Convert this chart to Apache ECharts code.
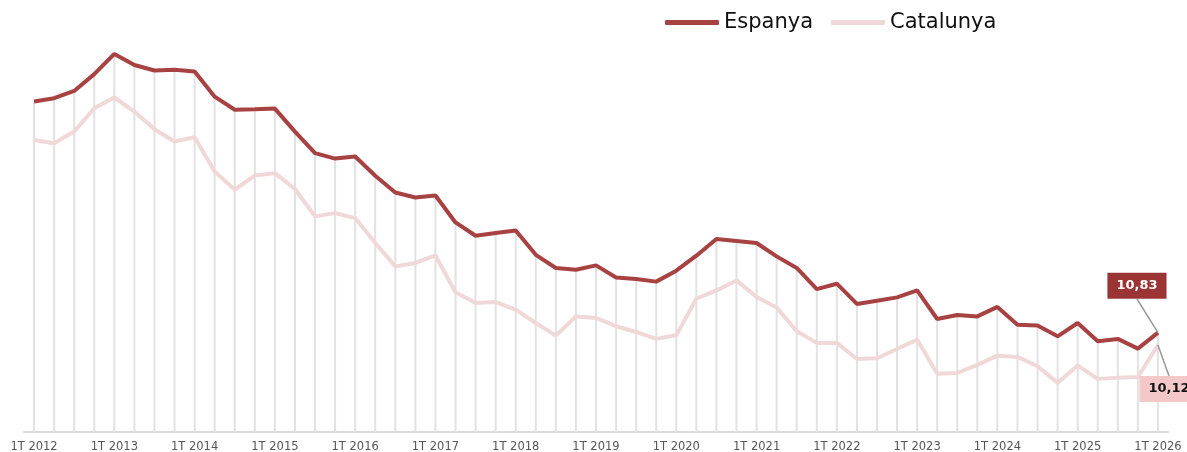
<!DOCTYPE html>
<html>
<head>
<meta charset="utf-8">
<script src="https://cdn.jsdelivr.net/npm/echarts@6/dist/echarts.min.js"></script>
<style>
  html, body { margin: 0; padding: 0; background: #fff; }
  #chart { width: 1187px; height: 452px; }
</style>
</head>
<body>
<div id="chart"></div>
<script>
// trimestres 1T 2012 .. 1T 2026
var years = [2012, 2013, 2014, 2015, 2016, 2017, 2018, 2019, 2020, 2021, 2022, 2023, 2024, 2025, 2026];
var quarters = [];
years.forEach(function (y) {
  for (var q = 1; q <= 4; q++) {
    if (y === 2026 && q > 1) break;
    quarters.push(q + 'T ' + y);
  }
});

var espanya = [
  24.19, 24.38, 24.80, 25.77, 26.94, 26.30, 25.98, 26.02,
  25.92, 24.47, 23.71, 23.74, 23.78, 22.45, 21.21, 20.89,
  21.01, 19.90, 18.93, 18.64, 18.76, 17.20, 16.43, 16.59,
  16.74, 15.33, 14.57, 14.47, 14.72, 14.02, 13.93, 13.78,
  14.41, 15.28, 16.24, 16.13, 16.01, 15.24, 14.57, 13.35,
  13.66, 12.49, 12.68, 12.87, 13.27, 11.62, 11.85, 11.77,
  12.32, 11.29, 11.24, 10.62, 11.39, 10.33, 10.47, 9.91,
  10.83
];
var catalunya = [
  21.97, 21.78, 22.45, 23.80, 24.42, 23.61, 22.59, 21.88,
  22.13, 20.14, 19.09, 19.91, 20.05, 19.13, 17.55, 17.74,
  17.45, 16.01, 14.66, 14.86, 15.29, 13.16, 12.55, 12.60,
  12.16, 11.39, 10.66, 11.77, 11.68, 11.20, 10.87, 10.47,
  10.68, 12.79, 13.27, 13.85, 12.89, 12.29, 10.91, 10.24,
  10.24, 9.31, 9.35, 9.89, 10.43, 8.46, 8.50, 8.97,
  9.50, 9.43, 8.89, 7.93, 8.93, 8.16, 8.22, 8.27,
  10.12
];

var font = 'DejaVu Sans, Verdana, sans-serif';
var last = quarters.length - 1;

function fmt(p) {
  return p.value.toFixed(2).replace('.', ',');
}

// només l'últim punt porta etiqueta
function lastLabel(arr, bg, fg) {
  return arr.map(function (v, i) {
    if (i < arr.length - 1) return v;
    return {
      value: v,
      label: {
        show: true,
        position: 'inside',
        formatter: fmt,
        backgroundColor: bg,
        color: fg,
        fontFamily: font,
        fontWeight: 'bold',
        fontSize: 13,
        lineHeight: 14,
        padding: [6, 9]
      }
    };
  });
}

// línia guia entre el punt i la seva etiqueta
function guide(val, px, py) {
  return {
    silent: true,
    symbol: 'none',
    label: { show: false },
    lineStyle: { color: '#999', width: 1.5, type: 'solid' },
    data: [[{ coord: [last, val] }, { x: px, y: py }]]
  };
}

var chart = echarts.init(document.getElementById('chart'));

chart.setOption({
  animation: false,
  legend: {
    data: ['Espanya', 'Catalunya'],
    left: 660,
    top: 7,
    icon: 'roundRect',
    itemWidth: 54,
    itemHeight: 5,
    itemGap: 18,
    textStyle: { fontFamily: font, fontSize: 21, color: '#111' }
  },
  grid: { left: 24, right: 19, top: 34, bottom: 20, outerBoundsMode: 'none' },
  xAxis: {
    type: 'category',
    data: quarters,
    axisTick: { show: false },
    axisLine: { lineStyle: { color: '#dadada', width: 2 } },
    axisLabel: { interval: 3, color: '#555', fontSize: 11.5, fontFamily: font, margin: 9 }
  },
  yAxis: {
    type: 'value',
    show: false,
    min: 5.09,
    max: 28.09,
    splitLine: { show: false }
  },
  series: [
    {
      name: 'guies',
      type: 'bar',
      data: espanya,
      barWidth: 2,
      silent: true,
      z: 1,
      itemStyle: { color: '#e2e2e2' }
    },
    {
      name: 'Catalunya',
      type: 'line',
      data: lastLabel(catalunya, '#f4c8c8', '#111'),
      symbol: 'circle',
      symbolSize: 0,
      showSymbol: true,
      z: 3,
      lineStyle: { color: '#f1d8d8', width: 4 },
      itemStyle: { color: '#f1d8d8' },
      labelLayout: { dx: 11, dy: 44 },
      markLine: guide(catalunya[last], 1169, 376)
    },
    {
      name: 'Espanya',
      type: 'line',
      data: lastLabel(espanya, '#9b3434', '#fff'),
      symbol: 'circle',
      symbolSize: 0,
      showSymbol: true,
      z: 4,
      lineStyle: { color: '#a84141', width: 4 },
      itemStyle: { color: '#a84141' },
      labelLayout: { dx: -21, dy: -47 },
      markLine: guide(espanya[last], 1137, 299)
    }
  ]
});
</script>
</body>
</html>
